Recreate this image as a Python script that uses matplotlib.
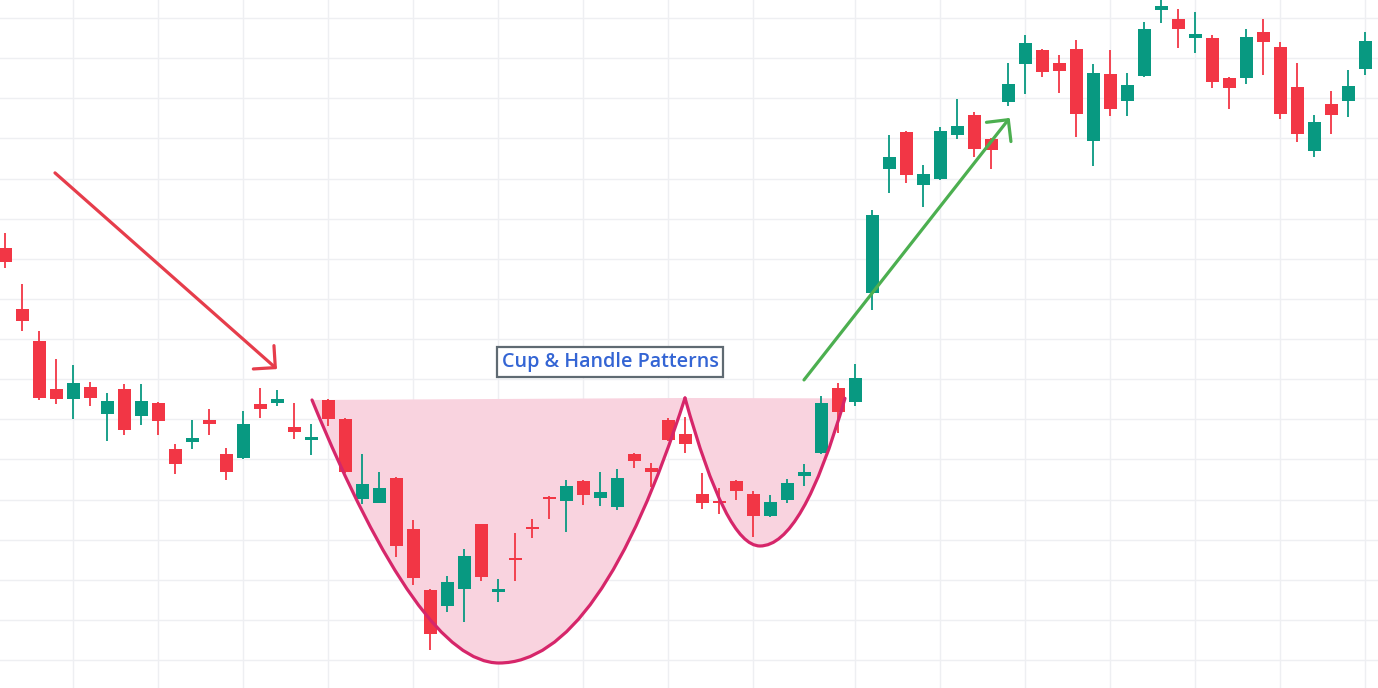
import matplotlib
matplotlib.use("Agg")
import matplotlib.pyplot as plt
from matplotlib.path import Path
from matplotlib.patches import PathPatch
import numpy as np

# ---- data (price units) ----
opens = [102.7, 87.5, 79.5, 67.5, 65.0, 68.0, 61.3, 67.5, 60.8, 64.0,
         52.6, 54.3, 59.8, 51.3, 50.3, 63.8, 64.0, 58.1, 54.8, 64.8,
         60.1, 40.1, 39.1, 45.4, 32.6, 17.4, 13.5, 17.7, 33.9, 16.9,
         25.4, 33.1, 40.6, 39.6, 44.6, 40.4, 38.1, 51.3, 47.9, 59.8,
         56.3, 41.4, 39.6, 44.6, 41.4, 35.9, 39.9, 45.9, 51.6, 67.8,
         64.3, 91.5, 122.4, 131.6, 118.4, 119.9, 130.8, 135.8, 129.8, 139.1,
         148.5, 152.0, 148.8, 152.3, 129.3, 146.0, 139.3, 145.5, 162.0, 159.8,
         155.0, 155.0, 145.0, 145.0, 156.5, 152.8, 142.8, 126.9, 138.6, 139.3,
         147.3]
closes = [99.2, 84.5, 65.3, 65.0, 69.0, 65.3, 64.5, 57.3, 64.5, 59.6,
          48.8, 55.3, 58.8, 46.9, 58.8, 62.6, 65.0, 56.8, 55.6, 60.1,
          46.9, 43.9, 42.9, 28.4, 20.4, 6.5, 19.4, 25.9, 20.7, 17.7,
          24.9, 32.6, 40.1, 43.4, 41.1, 41.9, 45.4, 49.6, 46.9, 54.8,
          53.8, 39.1, 39.1, 42.1, 35.9, 39.4, 44.1, 46.9, 64.0, 61.8,
          70.3, 110.9, 125.4, 120.9, 121.1, 131.8, 133.1, 127.4, 127.1, 143.6,
          153.8, 146.5, 146.8, 136.1, 146.3, 137.3, 143.3, 157.3, 163.0, 157.3,
          156.0, 144.0, 142.6, 155.3, 154.0, 136.1, 131.1, 134.1, 135.8, 143.1,
          154.3]
highs = [106.4, 93.7, 82.0, 75.0, 73.5, 69.3, 66.5, 68.8, 68.8, 64.2,
         53.8, 59.8, 62.6, 52.8, 62.1, 67.8, 67.3, 64.0, 58.8, 65.0,
         60.3, 51.3, 46.9, 45.6, 34.9, 17.7, 20.9, 27.7, 34.0, 20.2,
         31.7, 35.1, 40.8, 44.9, 44.9, 46.9, 47.6, 51.5, 49.1, 60.3,
         60.6, 46.6, 42.9, 44.9, 42.1, 41.1, 45.1, 48.8, 65.8, 69.0,
         73.8, 112.1, 130.8, 131.8, 123.4, 132.8, 139.8, 136.6, 130.0, 148.8,
         155.8, 152.3, 150.8, 154.5, 148.5, 152.0, 146.3, 159.0, 164.5, 162.2,
         161.5, 155.8, 145.3, 157.3, 159.8, 154.0, 148.8, 135.8, 141.8, 147.0,
         156.5]
lows = [97.7, 82.0, 64.8, 63.8, 60.1, 63.3, 54.6, 56.1, 58.6, 56.1,
        46.4, 52.6, 56.1, 44.9, 50.1, 60.3, 63.3, 55.1, 51.1, 58.3,
        46.6, 38.9, 39.1, 25.7, 18.7, 2.5, 12.0, 9.5, 19.7, 14.5,
        19.7, 30.4, 35.1, 31.9, 38.6, 38.4, 37.4, 47.9, 43.1, 54.6,
        51.6, 37.6, 36.4, 39.9, 30.7, 35.7, 39.1, 43.4, 51.4, 56.6,
        63.3, 87.2, 116.4, 118.9, 112.9, 119.7, 129.8, 125.4, 122.4, 138.1,
        141.1, 145.3, 141.3, 130.3, 123.1, 135.6, 135.6, 145.3, 158.8, 152.5,
        151.3, 142.6, 137.3, 143.6, 145.8, 134.8, 129.1, 125.4, 131.1, 135.3,
        145.8]

# vertical grid positions (candle index) and horizontal grid levels
x_grid = [4, 9, 14, 19, 24, 29, 34, 39, 44, 50, 55, 60, 65, 70, 75, 80]
y_grid = list(range(0, 161, 10))

# annotation anchors (candle index, price)
down_arrow = [(2.94, 121.4), (16.0, 72.5)]
up_arrow = [(47.0, 69.8), (59.1, 135.1)]
cup_pts = [(18.06, 64.8), (24.41, -0.75), (29.06, -0.75), (35.0, -0.75), (40.0, 65.3)]
handle_pts = [(40.0, 65.3), (42.41, 28.41), (44.41, 28.41), (46.91, 28.41), (49.41, 65.2)]
label_text = "Cup & Handle Patterns"
label_pos = (35.6, 74.3)

RED = "#f23645"
GREEN = "#089981"

fig = plt.figure(figsize=(13.78, 6.88), dpi=100)
ax = fig.add_axes([0, 0, 1, 1])
ax.set_xlim(-5 / 17, 1373 / 17)
ax.set_ylim(-28 / 4.0125, 660 / 4.0125)

# grid
ax.set_xticks(x_grid)
ax.set_yticks(y_grid)
ax.grid(True, color="#eeeff2", lw=1.0)
ax.tick_params(length=0, labelbottom=False, labelleft=False)
for s in ax.spines.values():
    s.set_visible(False)
ax.set_axisbelow(True)

def curve_path(pts):
    verts = list(pts)
    codes = [Path.MOVETO, Path.CURVE3, Path.CURVE3, Path.CURVE3, Path.CURVE3]
    return verts, codes

# cup & handle fill
for pts in (cup_pts, handle_pts):
    v, c = curve_path(pts)
    fill = Path(v + [v[0]], c + [Path.CLOSEPOLY])
    ax.add_patch(PathPatch(fill, facecolor="#f9d3df", edgecolor="none", zorder=1))

# candles
x = np.arange(len(opens))
o = np.array(opens); cl = np.array(closes)
cols = [GREEN if c_ >= o_ else RED for o_, c_ in zip(o, cl)]
ax.vlines(x, lows, highs, colors=cols, lw=1.3, zorder=2)
ax.bar(x, np.abs(cl - o), bottom=np.minimum(o, cl), width=13 / 17,
       color=cols, linewidth=0, zorder=3)

# cup & handle outline
for pts in (cup_pts, handle_pts):
    v, c = curve_path(pts)
    ax.add_patch(PathPatch(Path(v, c), facecolor="none", edgecolor="#d6266a",
                           lw=2.3, zorder=4, capstyle="round", joinstyle="round"))

# arrows
ax.annotate("", xy=down_arrow[1], xytext=down_arrow[0],
            arrowprops=dict(arrowstyle="->,head_length=0.56,head_width=0.56",
                            color="#e63d4b", lw=2.3, mutation_scale=20,
                            shrinkA=0, shrinkB=0), zorder=5)
ax.annotate("", xy=up_arrow[1], xytext=up_arrow[0],
            arrowprops=dict(arrowstyle="->,head_length=0.56,head_width=0.56",
                            color="#4caf50", lw=2.3, mutation_scale=20,
                            shrinkA=0, shrinkB=0), zorder=5)

ax.text(label_pos[0], label_pos[1], label_text, ha="center", va="center",
        fontsize=14.2, fontweight="semibold", color="#3465d4",
        family=["Open Sans", "DejaVu Sans"],
        bbox=dict(boxstyle="square,pad=0.24", facecolor="white",
                  edgecolor="#5f6a72", lw=1.6), zorder=6)

fig.savefig("out.png", dpi=100)
